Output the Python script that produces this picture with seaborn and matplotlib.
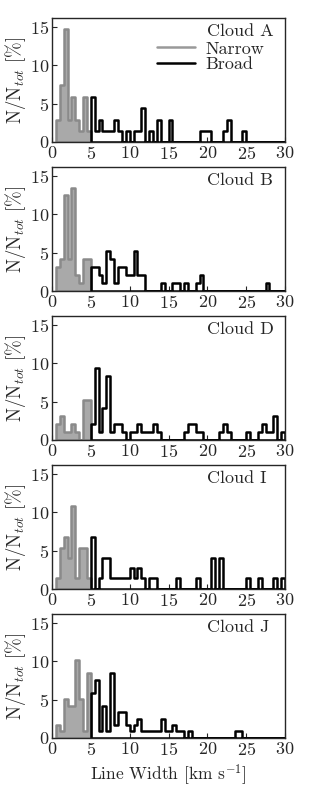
import numpy as np
import pandas as pd
import matplotlib
matplotlib.use("Agg")
import matplotlib.pyplot as plt
import seaborn as sns
from matplotlib.lines import Line2D

sns.set_style("ticks")
plt.rcParams['font.family'] = 'serif'
plt.rcParams['font.serif'] = ['cmr10', 'DejaVu Serif']
plt.rcParams['mathtext.fontset'] = 'cm'
plt.rcParams['axes.formatter.use_mathtext'] = True
plt.rcParams['axes.unicode_minus'] = False

# bins: 0.5 km/s wide, narrow component below 5, broad component 5-30
BIN_W = 0.5
NARROW_RANGE = (0.5, 5.0)
BROAD_RANGE = (5.0, 30.0)

clouds = ["Cloud A", "Cloud B", "Cloud D", "Cloud I", "Cloud J"]

# N/N_tot [%] per bin
narrow_A = [2.9, 7.4, 14.7, 2.9, 5.9, 2.9, 1.5, 5.9, 1.5]
broad_A = [5.9, 1.5, 2.9, 1.5, 1.5, 1.5, 2.9, 1.5, 0, 1.5,
           0, 1.5, 1.5, 4.4, 0, 1.5, 0, 2.9, 0, 0,
           2.9, 0, 0, 0, 0, 0, 0, 0, 1.5, 1.5,
           1.5, 0, 0, 0, 1.5, 2.9, 0, 0, 0, 1.5,
           0, 0, 0, 0, 0, 0, 0, 0, 0, 0]

narrow_B = [3.1, 4.2, 12.5, 4.2, 13.5, 2.1, 1.0, 4.2, 4.2]
broad_B = [3.1, 3.1, 2.1, 1.0, 5.2, 4.2, 1.0, 3.1, 3.1, 2.1,
           2.1, 5.2, 2.1, 2.1, 0, 0, 0, 0, 1.0, 0,
           0, 1.0, 1.0, 0, 1.0, 0, 0, 1.0, 2.1, 0,
           0, 0, 0, 0, 0, 0, 0, 0, 0, 0,
           0, 0, 0, 0, 0, 1.0, 0, 0, 0, 0]

narrow_D = [2.1, 3.1, 1.0, 1.0, 2.1, 1.0, 0, 5.2, 5.2]
broad_D = [2.1, 9.4, 1.0, 4.2, 8.3, 1.0, 2.1, 2.1, 1.0, 0,
           1.0, 1.0, 2.1, 1.0, 1.0, 1.0, 2.1, 1.0, 0, 0,
           0, 0, 0, 0, 1.0, 2.1, 2.1, 1.0, 1.0, 0,
           0, 0, 0, 1.0, 2.1, 1.0, 0, 0, 0, 0,
           1.0, 0, 0, 1.0, 2.1, 1.0, 1.0, 3.1, 0, 1.0]

narrow_I = [1.4, 5.4, 6.8, 4.1, 10.8, 1.4, 5.4, 5.4, 1.4]
broad_I = [6.8, 0, 1.4, 4.1, 4.1, 1.4, 1.4, 1.4, 1.4, 1.4,
           2.7, 1.4, 2.7, 1.4, 0, 1.4, 1.4, 0, 0, 0,
           0, 0, 1.4, 0, 0, 0, 0, 1.4, 0, 0,
           0, 4.1, 0, 4.1, 0, 0, 0, 0, 0, 0,
           1.4, 0, 0, 1.4, 0, 0, 0, 1.4, 0, 1.4]

narrow_J = [1.7, 0.85, 5.1, 4.2, 4.2, 10.2, 5.1, 0.85, 8.5]
broad_J = [5.9, 7.6, 0.85, 4.2, 0.85, 8.5, 1.7, 3.4, 3.4, 1.7,
           0.85, 1.7, 2.5, 0.85, 0.85, 0.85, 0.85, 0.85, 2.5, 0.85,
           0.85, 1.7, 0.85, 0.85, 0, 0.85, 0, 0, 0, 0,
           0, 0, 0, 0, 0, 0, 0, 0.85, 0.85, 0,
           0, 0, 0, 0, 0, 0, 0, 0, 0, 0]

narrow_all = [narrow_A, narrow_B, narrow_D, narrow_I, narrow_J]
broad_all = [broad_A, broad_B, broad_D, broad_I, broad_J]

NARROW_FACE = '#a9a9a9'
NARROW_EDGE = '#8a8a8a'


def bin_centers(lo, n):
    return lo + BIN_W * (np.arange(n) + 0.5)


def draw_panel(ax, name, narrow, broad, show_legend=False):
    n_df = pd.DataFrame({'width': bin_centers(NARROW_RANGE[0], len(narrow)), 'pct': narrow})
    b_df = pd.DataFrame({'width': bin_centers(BROAD_RANGE[0], len(broad)), 'pct': broad})

    sns.histplot(data=n_df, x='width', weights='pct', binwidth=BIN_W, binrange=NARROW_RANGE,
                 element='step', fill=True, color=NARROW_EDGE, facecolor=NARROW_FACE,
                 edgecolor=NARROW_EDGE, alpha=1, linewidth=1.8, ax=ax)
    sns.histplot(data=b_df, x='width', weights='pct', binwidth=BIN_W, binrange=BROAD_RANGE,
                 element='step', fill=True, color='black', facecolor='none',
                 edgecolor='black', linewidth=1.8, ax=ax)

    ax.set_xlim(0, 30)
    ax.set_ylim(0, 16.2)
    ax.set_xticks([0, 5, 10, 15, 20, 25, 30])
    ax.set_yticks([0, 5, 10, 15])
    ax.tick_params(direction='in', length=3.5, width=0.8, labelsize=13, pad=2)
    for s in ax.spines.values():
        s.set_linewidth(1.0)
    ax.set_xlabel('')
    ax.set_ylabel(r'N/N$_{tot}$ [%]', fontsize=13.5, labelpad=1)
    ax.text(0.665, 0.89, name, transform=ax.transAxes, fontsize=13, va='center', ha='left')

    if show_legend:
        handles = [Line2D([], [], color='#999999', lw=1.8),
                   Line2D([], [], color='black', lw=1.8)]
        ax.legend(handles, ['Narrow', 'Broad'], loc='upper left', bbox_to_anchor=(0.45, 0.815),
                  frameon=False, fontsize=13, borderpad=0, borderaxespad=0,
                  handlelength=2.1, handletextpad=0.6, labelspacing=0.0)


fig = plt.figure(figsize=(3.17, 7.94), dpi=100)
W, H = 317, 794
left, width, ph = 52, 233, 124
bottoms = [142, 291, 440, 589, 738]

axes = []
for i, name in enumerate(clouds):
    ax = fig.add_axes([left / W, 1 - bottoms[i] / H, width / W, ph / H])
    draw_panel(ax, name, narrow_all[i], broad_all[i], show_legend=(i == 0))
    axes.append(ax)

axes[-1].set_xlabel(r'Line Width [km s$^{-1}$]', fontsize=12.5, labelpad=3)

fig.savefig('out.png', dpi=100)
